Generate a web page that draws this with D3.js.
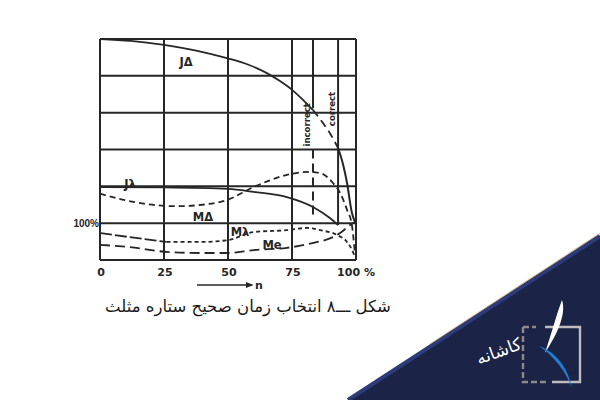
<!DOCTYPE html>
<html><head><meta charset="utf-8">
<script src="https://cdn.jsdelivr.net/npm/d3@7/dist/d3.min.js"></script>
<style>html,body{margin:0;padding:0;background:#fff;}svg{display:block;}</style>
</head><body>
<svg id="c" width="600" height="400"></svg>
<script>
// ---- data ----
const xTicks = [0, 25, 50, 75, 100];
const xTickLabels = ["0", "25", "50", "75", "100 %"];
const yGrid = [0, 100, 200, 300, 400, 500, 600];
const yLabel = "100%";
const switchIncorrect = 83.2;
const switchCorrect = 93;

const jDeltaN = [0, 12, 25, 38, 49.6, 58, 65, 70, 75, 79, 83.2, 87.1, 90, 93, 95, 96.5, 98.4, 99.6];
const jDeltaV = [600, 595, 584, 568, 548, 530, 508, 487, 462, 437, 407, 372, 342, 304, 258, 209, 128, 103];

const jLambdaN = [0, 25, 50, 60, 73, 83.2, 89.8, 93];
const jLambdaV = [198, 197, 193, 185, 171, 144, 114, 95];

const mDeltaN = [0, 13.7, 30, 40, 49.6, 60, 73, 81, 86, 91, 93.8, 96.5, 98.4, 99.6];
const mDeltaV = [180, 157, 146, 150, 163, 198, 231, 239, 236, 209, 182, 136, 95, 14];

const mLambdaN = [0, 11.7, 26, 39, 50, 60, 73, 81, 86, 92.6, 96.5, 98.8, 99.6];
const mLambdaV = [73, 62, 49, 49, 54, 76, 81, 87, 81, 68, 49, 22, 8];

const meN = [0, 11.7, 26, 39, 50, 60, 73, 83, 91, 93.8, 97.7, 99.6];
const meV = [41, 35, 22, 19, 19, 27, 33, 46, 62, 73, 95, 103];

const caption = "شکل ـــ۸ انتخاب زمان صحیح ستاره مثلث";

// ---- drawing ----
const svg = d3.select("#c");
const x = d3.scaleLinear().domain([0, 100]).range([100, 356]);
const y = d3.scaleLinear().domain([0, 600]).range([260, 39]);
const ink = "#262626";

const g = svg.append("g");

// horizontal grid
g.selectAll("line.h").data(yGrid).join("line")
  .attr("x1", x(0)).attr("x2", x(100))
  .attr("y1", d => y(d)).attr("y2", d => y(d))
  .attr("stroke", ink).attr("stroke-width", 2);
// vertical grid
g.selectAll("line.v").data(xTicks).join("line")
  .attr("x1", d => x(d)).attr("x2", d => x(d))
  .attr("y1", y(0)).attr("y2", y(600))
  .attr("stroke", ink).attr("stroke-width", 2);

// incorrect switching line
g.append("line").attr("x1", x(switchIncorrect)).attr("x2", x(switchIncorrect))
  .attr("y1", y(600)).attr("y2", y(412)).attr("stroke", ink).attr("stroke-width", 2);
g.append("line").attr("x1", x(switchIncorrect)).attr("x2", x(switchIncorrect))
  .attr("y1", y(300)).attr("y2", y(112)).attr("stroke", ink).attr("stroke-width", 2)
  .attr("stroke-dasharray", "9,5");
// correct switching line
g.append("line").attr("x1", x(switchCorrect)).attr("x2", x(switchCorrect))
  .attr("y1", y(600)).attr("y2", y(95)).attr("stroke", ink).attr("stroke-width", 2);

function rot(txt, n, v) {
  g.append("text").attr("transform", `translate(${x(n)},${y(v)}) rotate(-90)`)
    .attr("text-anchor", "middle").attr("dominant-baseline", "central")
    .attr("font-family", "DejaVu Sans Condensed, DejaVu Sans").attr("font-size", 9.5)
    .attr("font-weight", "bold").attr("fill", ink).text(txt);
}
rot("incorrect", 80.6, 367);
rot("correct", 90.6, 410);

const line = d3.line().x(d => x(d[0])).y(d => y(d[1])).curve(d3.curveMonotoneX);
const zip = (a, b) => a.map((v, i) => [v, b[i]]);

function curve(pts, dash, w) {
  g.append("path").attr("d", line(pts)).attr("fill", "none")
    .attr("stroke", ink).attr("stroke-width", w || 1.8)
    .attr("stroke-dasharray", dash || null).attr("stroke-linecap", "butt");
}

const jd = zip(jDeltaN, jDeltaV);
curve(jd.filter(d => d[0] <= switchIncorrect));
curve(jd.filter(d => d[0] >= switchIncorrect && d[0] <= switchCorrect), "8,5");
curve(jd.filter(d => d[0] >= switchCorrect), null, 2);

curve(zip(jLambdaN, jLambdaV));
curve(zip(mDeltaN, mDeltaV), "6,4");
const ml = zip(mLambdaN, mLambdaV);
curve(ml.filter(d => d[0] <= 26), "12,3");
curve(ml.filter(d => d[0] >= 26), "4,3");
curve(zip(meN, meV), "10,5");

// curve labels
function lab(txt, n, v) {
  g.append("text").attr("x", x(n)).attr("y", y(v))
    .attr("text-anchor", "middle").attr("dominant-baseline", "central")
    .attr("font-family", "DejaVu Sans").attr("font-weight", "bold")
    .attr("font-size", 11.5).attr("fill", ink).text(txt);
}
lab("JΔ", 33.6, 537);
lab("Jλ", 11.7, 205);
lab("MΔ", 40.2, 117);
lab("Mλ", 54.7, 76);
lab("Me", 67.2, 41);

// y label
g.append("text").attr("x", x(0) - 1).attr("y", y(100) + 4)
  .attr("text-anchor", "end").attr("font-family", "Liberation Sans").attr("font-weight", "bold")
  .attr("font-size", 10).attr("fill", ink).text(yLabel);

// x tick labels
g.selectAll("text.xt").data(xTicks).join("text")
  .attr("x", (d, i) => x(d) + (i === 4 ? 0 : 1)).attr("y", 276)
  .attr("text-anchor", "middle").attr("font-family", "DejaVu Sans").attr("font-weight", "bold")
  .attr("font-size", 11).attr("fill", ink).text((d, i) => xTickLabels[i]);

// arrow n
svg.append("defs").append("marker").attr("id", "ah").attr("viewBox", "0 0 10 10")
  .attr("refX", 8).attr("refY", 5).attr("markerWidth", 5).attr("markerHeight", 5)
  .attr("orient", "auto").append("path").attr("d", "M0,1L10,5L0,9Z").attr("fill", ink);
g.append("line").attr("x1", 197).attr("x2", 252).attr("y1", 285).attr("y2", 285)
  .attr("stroke", ink).attr("stroke-width", 1.6).attr("marker-end", "url(#ah)");
g.append("text").attr("x", 259).attr("y", 289).attr("text-anchor", "middle")
  .attr("font-family", "DejaVu Sans").attr("font-weight", "bold").attr("font-size", 11)
  .attr("fill", ink).text("n");

// caption
g.append("text").attr("x", 248).attr("y", 312).attr("text-anchor", "middle")
  .attr("direction", "rtl").attr("font-family", "DejaVu Sans").attr("font-size", 16.5)
  .attr("fill", "#1a1a1a").text(caption);

// watermark
const wm = svg.append("g");
wm.append("polygon").attr("points", "348,400 600,236 600,400").attr("fill", "#1b2347");
wm.append("line").attr("x1", 348).attr("y1", 400).attr("x2", 600).attr("y2", 236)
  .attr("stroke", "#2d3c78").attr("stroke-width", 4);
wm.append("line").attr("x1", 430).attr("y1", 344).attr("x2", 600).attr("y2", 233)
  .attr("stroke", "#c8924a").attr("stroke-width", 0.6);
wm.append("path").attr("d", "M545,327 H580 V382 H552").attr("fill", "none")
  .attr("stroke", "#bdbdbd").attr("stroke-width", 2.4);
wm.append("path").attr("d", "M523,327 H536 M523,327 V382 H548").attr("fill", "none")
  .attr("stroke", "#8a8a8a").attr("stroke-width", 2.4).attr("stroke-dasharray", "6,3");
wm.append("path").attr("d", "M562,300 C566,312 560,330 545,353 C552,332 556,316 562,300 Z")
  .attr("fill", "#ffffff");
wm.append("path").attr("d", "M539,346 C556,352 568,368 572,388 C566,372 554,356 539,346 Z")
  .attr("fill", "#1e7fd0");
wm.append("text").attr("x", 499).attr("y", 357).attr("text-anchor", "middle")
  .attr("direction", "rtl").attr("font-family", "DejaVu Sans").attr("font-size", 17)
  .attr("fill", "#ffffff").attr("transform", "rotate(-20,499,352)").text("کاشانه");
</script>
</body></html>
